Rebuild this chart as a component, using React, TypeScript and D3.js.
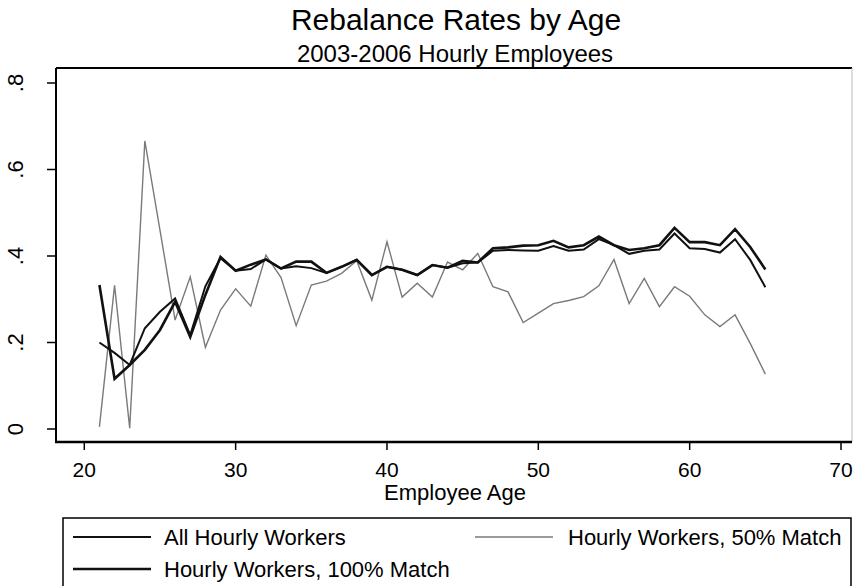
import React from "react";
import * as d3 from "d3";

const ages = [21,22,23,24,25,26,27,28,29,30,31,32,33,34,35,36,37,38,39,40,41,42,43,44,45,46,47,48,49,50,51,52,53,54,55,56,57,58,59,60,61,62,63,64,65];

const allHourly = [0.20,0.176,0.148,0.233,0.271,0.302,0.217,0.33,0.395,0.366,0.37,0.392,0.371,0.376,0.372,0.361,0.375,0.391,0.356,0.375,0.368,0.356,0.379,0.373,0.383,0.385,0.412,0.414,0.413,0.412,0.423,0.412,0.415,0.439,0.425,0.405,0.412,0.415,0.452,0.418,0.416,0.408,0.439,0.391,0.328];

const match100 = [0.333,0.116,0.148,0.183,0.229,0.294,0.213,0.31,0.398,0.366,0.38,0.392,0.371,0.387,0.387,0.361,0.375,0.391,0.356,0.375,0.368,0.356,0.379,0.373,0.389,0.385,0.418,0.42,0.424,0.425,0.435,0.42,0.425,0.445,0.425,0.414,0.418,0.425,0.465,0.432,0.432,0.425,0.462,0.421,0.369];

const match50 = [0.005,0.332,0.002,0.666,0.46,0.252,0.352,0.189,0.275,0.324,0.284,0.402,0.35,0.239,0.333,0.342,0.36,0.389,0.298,0.433,0.305,0.337,0.305,0.386,0.368,0.406,0.329,0.317,0.246,0.268,0.29,0.297,0.306,0.331,0.392,0.29,0.348,0.283,0.329,0.307,0.264,0.237,0.264,0.198,0.127];

const xTicks = [20,30,40,50,60,70];
const yTicks = [0,0.2,0.4,0.6,0.8];

const titleText = "Rebalance Rates by Age";
const subtitleText = "2003-2006 Hourly Employees";
const xLabel = "Employee Age";
const legendLabels = ["All Hourly Workers","Hourly Workers, 50% Match","Hourly Workers, 100% Match"];

const FONT = "'Liberation Sans', Arial, Helvetica, sans-serif";

export default function App() {
  const W = 854, H = 586;
  const frame = { l: 56, t: 68, r: 852, b: 442 };
  const x = d3.scaleLinear().domain([20, 70]).range([84.3, 841]);
  const y = d3.scaleLinear().domain([0, 0.8]).range([429, 83]);

  const mk = (vals: number[]) =>
    d3.line<number>().x((_, i) => x(ages[i])).y((d) => y(d))(vals) || "";

  const fmtY = (d: number) => (d === 0 ? "0" : d3.format(".1f")(d).replace(/^0/, ""));

  const cx = (frame.l + frame.r) / 2;

  return (
    <svg width={W} height={H} style={{ position: "absolute", left: 0, top: 0, background: "#fff" }} fontFamily={FONT}>
      <rect x={0} y={0} width={W} height={H} fill="#fff" />
      <text x={456} y={30} textAnchor="middle" fontSize={30} fill="#000">{titleText}</text>
      <text x={455} y={62} textAnchor="middle" fontSize={24} fill="#000">{subtitleText}</text>

      {/* frame */}
      <line x1={frame.l} y1={frame.t} x2={frame.r} y2={frame.t} stroke="#000" strokeWidth={2} />
      <line x1={frame.r} y1={frame.t} x2={frame.r} y2={frame.b} stroke="#bbb" strokeWidth={1} />
      <line x1={frame.l} y1={frame.t} x2={frame.l} y2={frame.b + 1} stroke="#000" strokeWidth={2} />
      <line x1={frame.l - 1} y1={frame.b} x2={frame.r} y2={frame.b} stroke="#000" strokeWidth={2.5} />

      {/* y ticks */}
      {yTicks.map((t) => (
        <g key={"y" + t}>
          <line x1={frame.l - 9} x2={frame.l} y1={y(t)} y2={y(t)} stroke="#000" strokeWidth={1.5} />
          <text transform={`translate(23,${y(t)}) rotate(-90)`} textAnchor="middle" fontSize={22} fill="#000">{fmtY(t)}</text>
        </g>
      ))}

      {/* x ticks */}
      {xTicks.map((t) => (
        <g key={"x" + t}>
          <line x1={x(t)} x2={x(t)} y1={frame.b} y2={frame.b + 8} stroke="#000" strokeWidth={1.5} />
          <text x={x(t)} y={477} textAnchor="middle" fontSize={21} fill="#000">{t}</text>
        </g>
      ))}
      <text x={455} y={500} textAnchor="middle" fontSize={22} fill="#000">{xLabel}</text>

      {/* series */}
      <path d={mk(match50)} fill="none" stroke="#7a7a7a" strokeWidth={1.4} strokeLinejoin="miter" />
      <path d={mk(allHourly)} fill="none" stroke="#111" strokeWidth={2} />
      <path d={mk(match100)} fill="none" stroke="#111" strokeWidth={2.6} />

      {/* legend */}
      <rect x={63} y={518} width={788} height={90} fill="none" stroke="#000" strokeWidth={1.5} />
      <line x1={73} x2={151} y1={537} y2={537} stroke="#111" strokeWidth={2} />
      <text x={164} y={545} fontSize={22} fill="#000">{legendLabels[0]}</text>
      <line x1={475} x2={553} y1={537} y2={537} stroke="#7a7a7a" strokeWidth={1.4} />
      <text x={568} y={545} fontSize={22} fill="#000">{legendLabels[1]}</text>
      <line x1={73} x2={151} y1={569} y2={569} stroke="#111" strokeWidth={2.6} />
      <text x={164} y={577} fontSize={22} fill="#000">{legendLabels[2]}</text>
    </svg>
  );
}
